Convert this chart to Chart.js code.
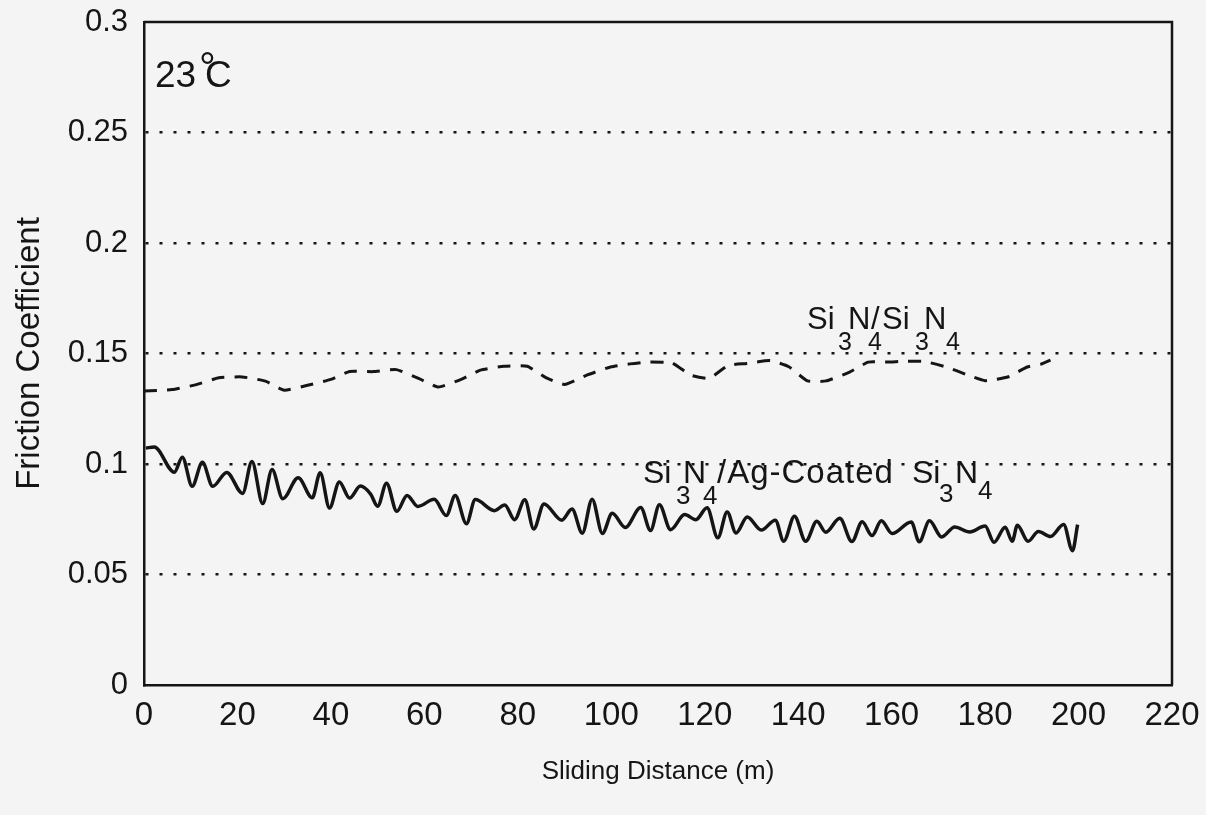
<!DOCTYPE html>
<html>
<head>
<meta charset="utf-8">
<script src="https://cdn.jsdelivr.net/npm/chart.js@4.4.1/dist/chart.umd.min.js"></script>
<style>
  html, body { margin: 0; padding: 0; background: #f4f4f4; }
  #wrap { width: 1206px; height: 815px; }
</style>
</head>
<body>
<div id="wrap"><canvas id="chart" width="1206" height="815"></canvas></div>
<script>
// Si3N4 / Ag-coated Si3N4 (solid line)
const solidX = [0.4, 2.2, 6.5, 8.2, 10.3, 12.5, 14.7, 17.7, 21.1, 23.1, 25.4, 27.4, 29.7, 33.0, 36.0, 37.7,
  39.7, 41.8, 44.0, 46.3, 48.5, 50.0, 51.9, 54.1, 56.3, 58.6, 62.1, 64.7, 66.6, 69.0, 70.9, 75.0,
  77.2, 79.3, 81.5, 83.4, 85.6, 89.4, 91.6, 93.8, 95.9, 98.1, 100.2, 103.0, 106.3, 108.4, 110.3,
  112.7, 115.7, 118.1, 120.5, 122.8, 124.8, 126.7, 129.1, 132.1, 135.1, 136.9, 139.2, 141.6, 144.0,
  145.9, 148.9, 151.5, 153.7, 155.8, 157.8, 160.1, 164.2, 165.9, 168.1, 170.7, 173.5, 176.7, 180.0,
  181.9, 184.3, 185.8, 186.9, 189.2, 191.4, 194.0, 196.8, 198.7, 199.8];
const solidY = [0.1072, 0.1077, 0.0963, 0.1031, 0.0899, 0.1008, 0.0899, 0.0962, 0.0867, 0.1011, 0.0821,
  0.0975, 0.0843, 0.0938, 0.0847, 0.0960, 0.0801, 0.0919, 0.0846, 0.0900, 0.0864, 0.0809, 0.0913,
  0.0786, 0.0858, 0.0808, 0.0840, 0.0767, 0.0857, 0.0730, 0.0839, 0.0789, 0.0815, 0.0748, 0.0838,
  0.0706, 0.0819, 0.0746, 0.0796, 0.0687, 0.0841, 0.0686, 0.0777, 0.0713, 0.0803, 0.0699, 0.0816,
  0.0703, 0.0771, 0.0748, 0.0802, 0.0666, 0.0783, 0.0688, 0.0760, 0.0701, 0.0746, 0.0651, 0.0764,
  0.0650, 0.0741, 0.0691, 0.0754, 0.0649, 0.0739, 0.0676, 0.0743, 0.0685, 0.0738, 0.0648, 0.0743,
  0.0670, 0.0715, 0.0692, 0.0719, 0.0646, 0.0714, 0.0650, 0.0723, 0.0650, 0.0695, 0.0672, 0.0726,
  0.0608, 0.0726];

// Si3N4 / Si3N4 (dashed line)
const dashX = [0, 6, 11, 16, 21, 26, 30, 35, 40, 44, 49, 54, 59, 63, 68, 72, 77, 82, 86, 90, 95, 100,
  104, 108, 113, 117, 121, 125, 129, 134, 138, 142, 146, 151, 155, 159, 163, 167, 172, 176, 180,
  185, 189, 192, 194];
const dashY = [0.1330, 0.1337, 0.1358, 0.1390, 0.1394, 0.1375, 0.1334, 0.1356, 0.1383, 0.1419, 0.1418,
  0.1427, 0.1385, 0.1348, 0.1384, 0.1425, 0.1442, 0.1442, 0.1391, 0.1360, 0.1404, 0.1440, 0.1453,
  0.1462, 0.1457, 0.1402, 0.1388, 0.1446, 0.1455, 0.1468, 0.1440, 0.1376, 0.1376, 0.1416, 0.1461,
  0.1461, 0.1465, 0.1464, 0.1437, 0.1405, 0.1377, 0.1395, 0.1439, 0.1452, 0.1470];

const xTicks = [0, 20, 40, 60, 80, 100, 120, 140, 160, 180, 200, 220];
const yTicks = [0, 0.05, 0.1, 0.15, 0.2, 0.25, 0.3];
const yTickLabels = ['0', '0.05', '0.1', '0.15', '0.2', '0.25', '0.3'];

const INK = '#151515';
const FONT = '"Liberation Sans", Arial, sans-serif';

// text pieces: [text, x, baseline, size, letterSpacing]
const notes = [
  ['23', 155, 87, 37, 0], ['\u00b0', 199, 82, 42, 0], ['C', 205, 87, 37, 0],
  ['Si', 807, 329, 31, 0], ['3', 838, 350, 25, 0], ['N', 848, 329, 31, 0], ['4', 868, 350, 25, 0],
  ['/', 871, 329, 31, 0], ['Si', 882, 329, 31, 0], ['3', 915, 350, 25, 0], ['N', 924, 329, 31, 0],
  ['4', 946, 350, 25, 0],
  ['Si', 643, 483, 32, 0], ['3', 676, 504, 26, 0], ['N', 683, 483, 32, 0], ['4', 703, 504, 26, 0],
  ['/Ag-Coated', 717, 483, 33, 1], ['Si', 912, 483, 32, 0], ['3', 939, 502, 26, 0],
  ['N', 955, 483, 32, 0], ['4', 978, 499, 26, 0]
];

const framePlugin = {
  id: 'frame',
  afterDraw(chart) {
    const { ctx, chartArea: a } = chart;
    ctx.save();
    ctx.strokeStyle = INK;
    ctx.lineWidth = 2.5;
    ctx.beginPath();
    ctx.moveTo(a.left, a.top);
    ctx.lineTo(a.right, a.top);
    ctx.lineTo(a.right, a.bottom);
    ctx.stroke();
    ctx.fillStyle = INK;
    ctx.textBaseline = 'alphabetic';
    ctx.textAlign = 'left';
    notes.forEach(([t, x, y, size, sp]) => {
      ctx.font = size + 'px ' + FONT;
      ctx.letterSpacing = sp + 'px';
      ctx.fillText(t, x, y);
    });
    ctx.restore();
  }
};

const toPoints = (xs, ys) => xs.map((x, i) => ({ x: x, y: ys[i] }));

new Chart(document.getElementById('chart'), {
  type: 'line',
  data: {
    datasets: [
      {
        label: 'Si3N4/Si3N4',
        data: toPoints(dashX, dashY),
        borderColor: INK,
        borderWidth: 3,
        borderDash: [13, 10],
        pointRadius: 0,
        tension: 0.15
      },
      {
        label: 'Si3N4/Ag-Coated Si3N4',
        data: toPoints(solidX, solidY),
        borderColor: INK,
        borderWidth: 3.5,
        pointRadius: 0,
        cubicInterpolationMode: 'monotone'
      }
    ]
  },
  options: {
    responsive: false,
    animation: false,
    devicePixelRatio: 1,
    layout: { padding: { top: 22, right: 34, left: 0, bottom: 0 } },
    plugins: {
      legend: { display: false },
      tooltip: { enabled: false }
    },
    scales: {
      x: {
        type: 'linear',
        min: 0,
        max: 220,
        afterBuildTicks: s => { s.ticks = xTicks.map(v => ({ value: v })); },
        afterFit: s => { s.height = 130; s.paddingLeft = 0; s.paddingRight = 0; },
        grid: { display: false, drawTicks: false },
        border: { display: true, color: INK, width: 2.5 },
        ticks: {
          color: INK,
          padding: 11,
          maxRotation: 0,
          font: { family: FONT, size: 33 }
        },
        title: {
          display: true,
          text: 'Sliding Distance (m)',
          color: INK,
          font: { family: FONT, size: 26 },
          padding: { top: 0, bottom: 28 }
        }
      },
      y: {
        min: 0,
        max: 0.3,
        afterBuildTicks: s => { s.ticks = yTicks.map(v => ({ value: v })); },
        afterFit: s => { s.width = 144; s.paddingTop = 0; s.paddingBottom = 0; },
        grid: {
          drawTicks: false,
          color: ctx => (ctx.tick && ctx.tick.value > 0 && ctx.tick.value < 0.3) ? INK : 'rgba(0,0,0,0)',
          lineWidth: 2.5
        },
        border: { display: true, color: INK, width: 2.5, dash: [3, 11] },
        ticks: {
          color: INK,
          padding: 16,
          font: { family: FONT, size: 31 },
          callback: (v, i) => yTickLabels[i]
        },
        title: {
          display: true,
          text: 'Friction Coefficient',
          color: INK,
          font: { family: FONT, size: 33 },
          padding: { top: 10, bottom: 0 }
        }
      }
    }
  },
  plugins: [framePlugin]
});
</script>
</body>
</html>
